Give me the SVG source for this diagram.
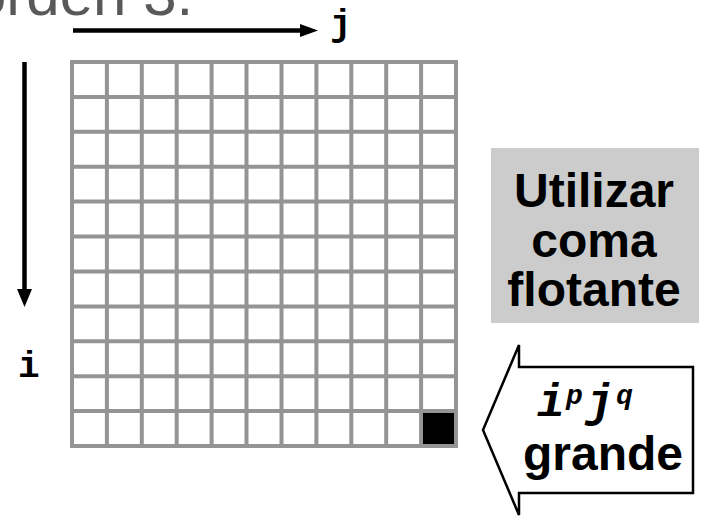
<svg xmlns="http://www.w3.org/2000/svg" width="704" height="516" viewBox="0 0 704 516">
<defs>
<style>
.grid line{stroke:#949494;stroke-width:4}
.axis{stroke:#000;stroke-width:4.5;fill:none}
.head{fill:#000}
.mono{font-family:"Liberation Mono","Courier New",monospace;font-weight:bold;fill:#000}
.sans{font-family:"Liberation Sans",Arial,sans-serif;font-weight:bold;fill:#000;text-anchor:middle}
</style>
</defs>
<rect width="704" height="516" fill="#fff"/>
<text x="-27" y="15" font-family="Liberation Sans, Arial, sans-serif" font-size="60" fill="#595959">orden 3.</text>
<g id="grid" class="grid">
<line x1="72" y1="62" x2="72" y2="446"/>
<line x1="106.9" y1="62" x2="106.9" y2="446"/>
<line x1="141.8" y1="62" x2="141.8" y2="446"/>
<line x1="176.7" y1="62" x2="176.7" y2="446"/>
<line x1="211.6" y1="62" x2="211.6" y2="446"/>
<line x1="246.5" y1="62" x2="246.5" y2="446"/>
<line x1="281.5" y1="62" x2="281.5" y2="446"/>
<line x1="316.4" y1="62" x2="316.4" y2="446"/>
<line x1="351.3" y1="62" x2="351.3" y2="446"/>
<line x1="386.2" y1="62" x2="386.2" y2="446"/>
<line x1="421.1" y1="62" x2="421.1" y2="446"/>
<line x1="456" y1="62" x2="456" y2="446"/>
<line x1="70" y1="62" x2="458" y2="62"/>
<line x1="70" y1="96.9" x2="458" y2="96.9"/>
<line x1="70" y1="131.8" x2="458" y2="131.8"/>
<line x1="70" y1="166.7" x2="458" y2="166.7"/>
<line x1="70" y1="201.6" x2="458" y2="201.6"/>
<line x1="70" y1="236.5" x2="458" y2="236.5"/>
<line x1="70" y1="271.5" x2="458" y2="271.5"/>
<line x1="70" y1="306.4" x2="458" y2="306.4"/>
<line x1="70" y1="341.3" x2="458" y2="341.3"/>
<line x1="70" y1="376.2" x2="458" y2="376.2"/>
<line x1="70" y1="411.1" x2="458" y2="411.1"/>
<line x1="70" y1="446" x2="458" y2="446"/>
<rect x="423" y="413" width="31" height="31" fill="#000"/>
</g>
<g id="connectors">
<line class="axis" x1="73" y1="30.5" x2="302" y2="30.5"/>
<polygon class="head" points="300,24 318,30.5 300,37"/>
<line class="axis" x1="24.5" y1="62" x2="24.5" y2="291"/>
<polygon class="head" points="17,289 24.5,307 32,289"/>
</g>
<g id="label-j"><text class="mono" x="330" y="35" font-size="36">j</text></g>
<g id="label-i"><text class="mono" x="18" y="377" font-size="36">i</text></g>
<g id="note">
<rect x="491" y="148" width="208" height="175" fill="#cccccc"/>
<text class="sans" x="594" y="207" font-size="48">Utilizar</text>
<text class="sans" x="594" y="257" font-size="48">coma</text>
<text class="sans" x="594" y="306" font-size="48">flotante</text>
</g>
<g id="callout">
<path d="M483,430 L519,345 L519,367 L693,367 L693,493 L519,493 L519,515 Z" fill="#fff" stroke="#000" stroke-width="2.5" stroke-linejoin="miter"/>
<text class="mono" font-style="italic" font-size="46" y="416"><tspan x="537">i</tspan><tspan x="566" y="404" font-size="28">p</tspan><tspan x="586" y="416">j</tspan><tspan x="616" y="404" font-size="28">q</tspan></text>
<text class="sans" x="603" y="470" font-size="48">grande</text>
</g>
</svg>
